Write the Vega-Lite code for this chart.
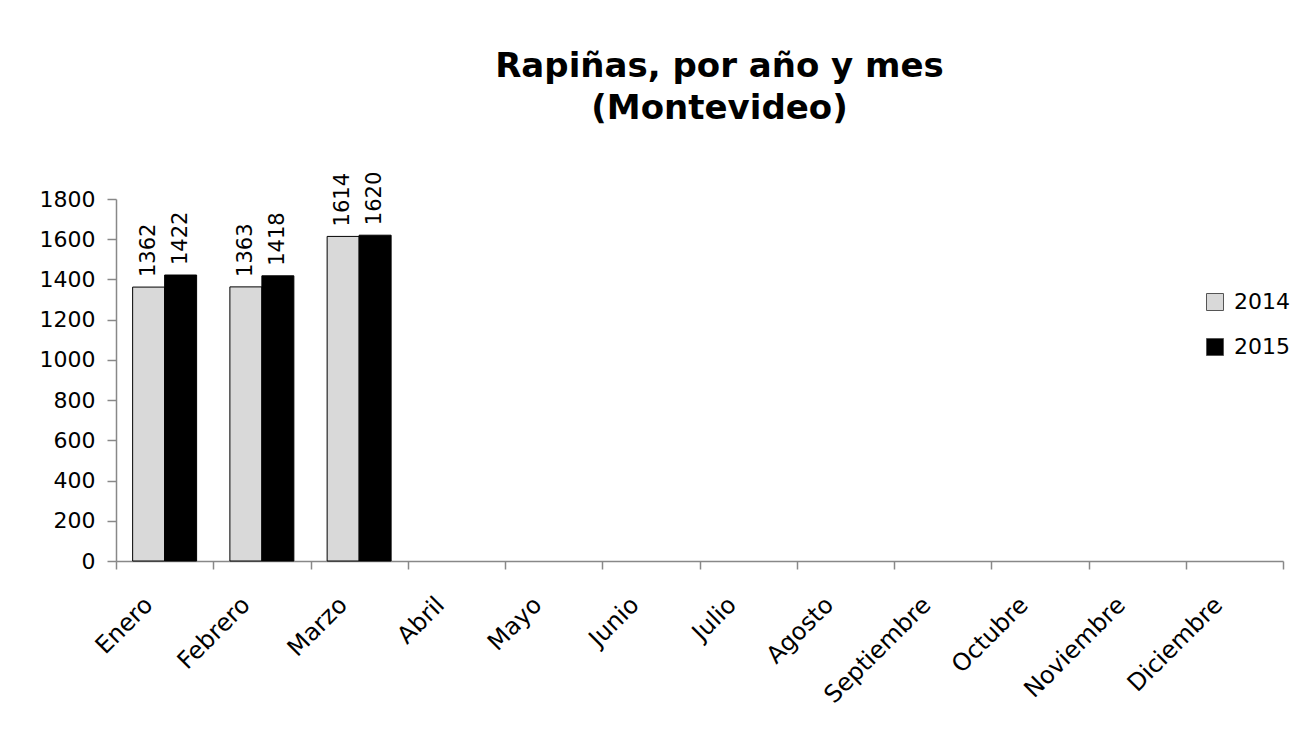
{
  "$schema": "https://vega.github.io/schema/vega-lite/v6.json",
  "width": 1167,
  "height": 362,
  "autosize": {"type": "none"},
  "padding": {"left": 116, "top": 199, "right": 9, "bottom": 168},
  "background": "white",
  "config": {
    "font": "DejaVu Sans",
    "view": {"stroke": null}
  },
  "title": {
    "text": ["Rapiñas, por año y mes", "(Montevideo)"],
    "font": "DejaVu Sans",
    "fontSize": 34,
    "fontWeight": "bold",
    "color": "black",
    "anchor": "middle",
    "frame": "group",
    "baseline": "bottom",
    "lineHeight": 42,
    "dx": 20,
    "offset": 12
  },
  "data": {
    "values": [
      {"mes": "Enero", "anio": "2014", "valor": 1362},
      {"mes": "Enero", "anio": "2015", "valor": 1422},
      {"mes": "Febrero", "anio": "2014", "valor": 1363},
      {"mes": "Febrero", "anio": "2015", "valor": 1418},
      {"mes": "Marzo", "anio": "2014", "valor": 1614},
      {"mes": "Marzo", "anio": "2015", "valor": 1620}
    ]
  },
  "encoding": {
    "x": {
      "field": "mes",
      "type": "nominal",
      "scale": {
        "domain": ["Enero", "Febrero", "Marzo", "Abril", "Mayo", "Junio", "Julio", "Agosto", "Septiembre", "Octubre", "Noviembre", "Diciembre"],
        "paddingInner": 0,
        "paddingOuter": 0
      },
      "axis": {
        "title": null,
        "tickBand": "extent",
        "labelAngle": -45,
        "labelAlign": "right",
        "labelBaseline": "middle",
        "labelFont": "DejaVu Sans",
        "labelFontSize": 24,
        "labelColor": "black",
        "labelPadding": 32,
        "labelOffset": -16,
        "tickSize": 8,
        "tickColor": "#888888",
        "domainColor": "#888888",
        "tickWidth": 1.5,
        "domainWidth": 1.5,
        "grid": false
      }
    },
    "xOffset": {"field": "anio", "type": "nominal", "scale": {"paddingInner": 0, "paddingOuter": 0.52}},
    "y": {
      "field": "valor",
      "type": "quantitative",
      "scale": {"domain": [0, 1800], "nice": false},
      "axis": {
        "title": null,
        "values": [0, 200, 400, 600, 800, 1000, 1200, 1400, 1600, 1800],
        "format": "d",
        "grid": false,
        "labelFont": "DejaVu Sans",
        "labelFontSize": 22,
        "labelColor": "black",
        "labelPadding": 12,
        "tickSize": 9,
        "tickColor": "#888888",
        "domainColor": "#888888",
        "tickWidth": 1.5,
        "domainWidth": 1.5
      }
    }
  },
  "layer": [
    {
      "mark": {"type": "bar", "stroke": "black", "strokeWidth": 1},
      "encoding": {
        "color": {
          "field": "anio",
          "type": "nominal",
          "scale": {"domain": ["2014", "2015"], "range": ["#d9d9d9", "#000000"]},
          "legend": {
            "title": null,
            "orient": "none",
            "legendX": 1088,
            "legendY": 92,
            "symbolType": "square",
            "symbolSize": 289,
            "symbolStrokeColor": "#555555",
            "symbolStrokeWidth": 1,
            "labelFont": "DejaVu Sans",
            "labelFontSize": 22,
            "labelColor": "black",
            "labelOffset": 8,
            "rowPadding": 23
          }
        }
      }
    },
    {
      "mark": {
        "type": "text",
        "angle": -90,
        "align": "left",
        "baseline": "middle",
        "dx": 10,
        "font": "DejaVu Sans",
        "fontSize": 21,
        "color": "black"
      },
      "encoding": {
        "text": {"field": "valor", "type": "quantitative"}
      }
    }
  ]
}
